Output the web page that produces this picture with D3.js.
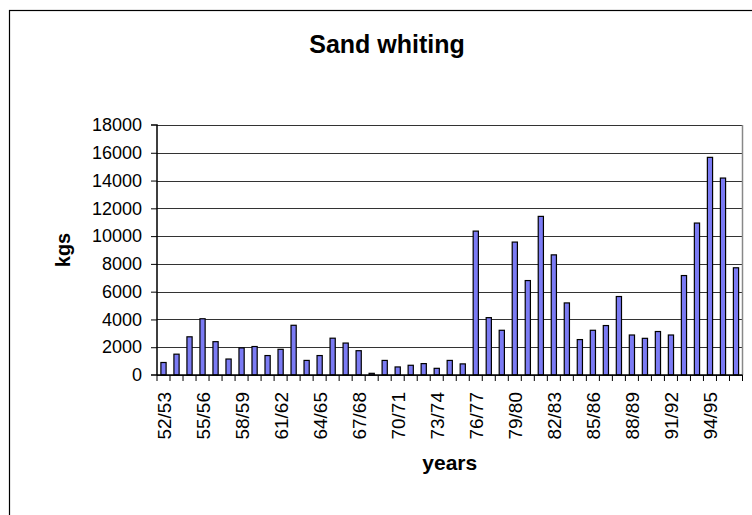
<!DOCTYPE html>
<html><head><meta charset="utf-8">
<script src="https://cdn.jsdelivr.net/npm/d3@7"></script>
<style>
html,body{margin:0;padding:0;background:#fff;}
svg{display:block;font-family:"Liberation Sans",Arial,sans-serif;}
</style></head>
<body>
<svg id="c" width="752" height="515"></svg>
<script>
const categories = ["52/53","53/54","54/55","55/56","56/57","57/58","58/59","59/60","60/61","61/62",
"62/63","63/64","64/65","65/66","66/67","67/68","68/69","69/70","70/71","71/72",
"72/73","73/74","74/75","75/76","76/77","77/78","78/79","79/80","80/81","81/82",
"82/83","83/84","84/85","85/86","86/87","87/88","88/89","89/90","90/91","91/92",
"92/93","93/94","94/95","95/96","96/97"];
const values = [900,1500,2750,4050,2400,1150,1950,2050,1400,1850,
3580,1050,1400,2650,2300,1750,120,1050,580,700,
820,480,1050,800,10360,4130,3220,9570,6800,11420,
8650,5190,2550,3220,3560,5650,2880,2640,3130,2880,
7160,10940,15670,14180,7720];
const yTicks = [0,2000,4000,6000,8000,10000,12000,14000,16000,18000];
const xTickLabels = ["52/53","55/56","58/59","61/62","64/65","67/68","70/71","73/74","76/77","79/80","82/83","85/86","88/89","91/92","94/95"];
const title = "Sand whiting", xTitle = "years", yTitle = "kgs";

const svg = d3.select("#c");
const L = 157, R = 742.5, T = 125, B = 375;

// outer chart border
svg.append("rect").attr("x",9.5).attr("y",10.5).attr("width",800).attr("height",600)
  .attr("fill","none").attr("stroke","#000").attr("stroke-width",1.2);

const x = d3.scaleBand().domain(categories).range([L,R]).paddingInner(0.6).paddingOuter(0.3);
const y = d3.scaleLinear().domain([0,18000]).range([B,T]);

// gridlines
svg.append("g").attr("transform",`translate(${L},0)`)
  .call(d3.axisLeft(y).tickValues(yTicks).tickSize(-(R-L)).tickFormat(""))
  .call(g=>g.select(".domain").remove())
  .call(g=>g.selectAll("line").attr("stroke","#333").attr("stroke-width",1).attr("shape-rendering","crispEdges"));

// plot area right border
svg.append("line").attr("x1",R).attr("x2",R).attr("y1",T).attr("y2",B)
  .attr("stroke","#888").attr("stroke-width",1.5);

// bars
svg.append("g").selectAll("rect").data(values).join("rect")
  .attr("x",(d,i)=>x(categories[i]))
  .attr("y",d=>y(d))
  .attr("width",x.bandwidth())
  .attr("height",d=>B-y(d))
  .attr("fill","#7b7bf4").attr("stroke","#000").attr("stroke-width",1.2);

// y axis
const ya = svg.append("g").attr("transform",`translate(${L},0)`)
  .call(d3.axisLeft(y).tickValues(yTicks).tickSize(6).tickPadding(9).tickFormat(d3.format("d")));
ya.select(".domain").attr("stroke","#000").attr("stroke-width",1.5).attr("d",`M-6,${T}H0V${B}H-6`);
ya.selectAll(".tick line").attr("stroke","#000");
ya.selectAll("text").attr("font-size",18).attr("fill","#000").attr("font-family","Liberation Sans, Arial, sans-serif");
ya.selectAll(".tick").filter(d=>d===0||d===18000).select("line").remove();

// x axis baseline and ticks at category boundaries
const step = x.step();
const x0 = x(categories[0]) - x.paddingInner()*step/2;
const bounds = d3.range(categories.length+1).map(i=>x0+i*step);
svg.append("line").attr("x1",L).attr("x2",R).attr("y1",B).attr("y2",B).attr("stroke","#000").attr("stroke-width",1.5);
svg.append("g").selectAll("line").data(bounds).join("line")
  .attr("x1",d=>d).attr("x2",d=>d).attr("y1",B).attr("y2",B+6)
  .attr("stroke","#000").attr("stroke-width",1);

// x labels
svg.append("g").selectAll("text").data(xTickLabels).join("text")
  .attr("transform",d=>`translate(${x(d)+x.bandwidth()/2+7},${B+17}) rotate(-90)`)
  .attr("text-anchor","end").attr("font-size",19).attr("fill","#000").text(d=>d);

// titles
svg.append("text").attr("x",387).attr("y",53).attr("text-anchor","middle")
  .attr("font-size",25).attr("font-weight","bold").text(title);
svg.append("text").attr("x",(L+R)/2).attr("y",470).attr("text-anchor","middle")
  .attr("font-size",21).attr("font-weight","bold").text(xTitle);
svg.append("text").attr("transform",`translate(70,${(T+B)/2}) rotate(-90)`).attr("text-anchor","middle")
  .attr("font-size",20).attr("font-weight","bold").text(yTitle);
</script>
</body></html>
